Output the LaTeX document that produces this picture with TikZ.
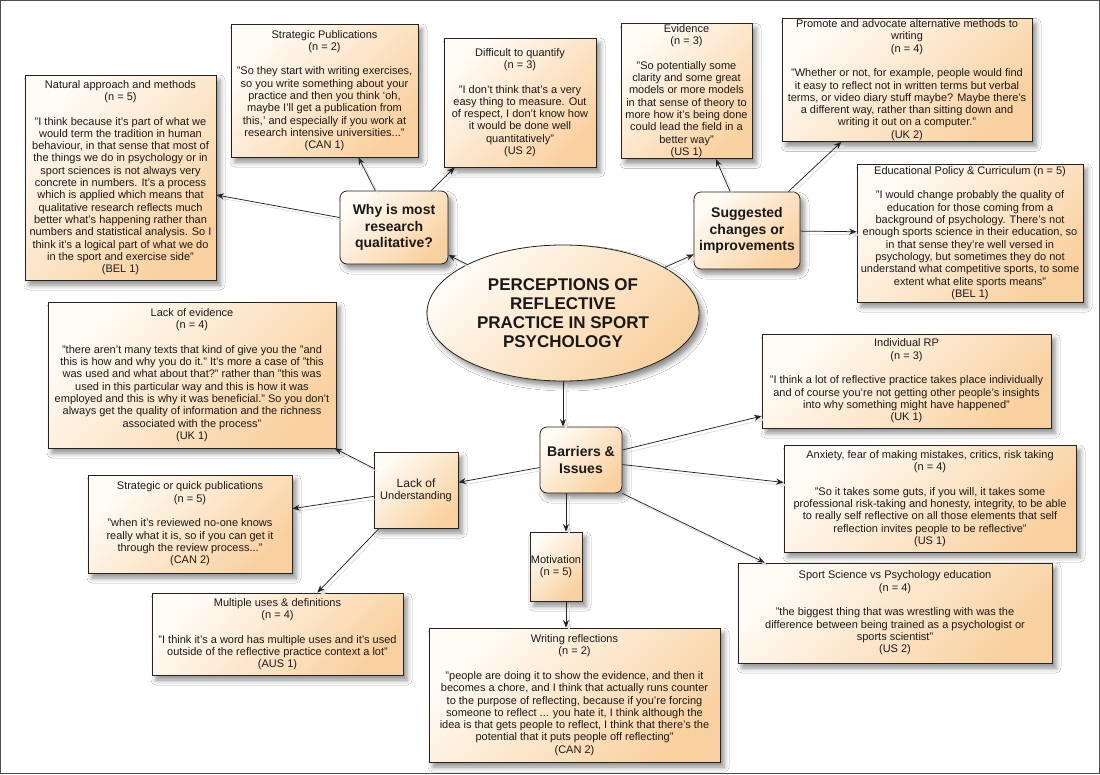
\documentclass[tikz,border=0pt]{standalone}
\usepackage{fontspec}
\setmainfont{Liberation Sans}
\usetikzlibrary{arrows.meta,shapes.geometric,shadows.blur,calc}

\definecolor{boxlight}{RGB}{255,251,245}
\definecolor{boxdark}{RGB}{249,209,160}
\definecolor{ink}{RGB}{35,35,35}

\newcommand\quotefont{\fontsize{11}{12.3}\selectfont}
\newcommand\hubfont{\fontsize{14}{16.6}\selectfont\bfseries}
\newcommand\centrefont{\fontsize{17}{19.2}\selectfont\bfseries}

% a box given by its corners (x1,y1) and (x2,y2), y pointing down
\newcommand\boxat[7]{%
  \pgfmathsetmacro\boxwd{#5-#3}%
  \pgfmathsetmacro\boxht{#6-#4}%
  \node[#1, minimum width=\boxwd pt, minimum height=\boxht pt]
    (#2) at ({(#3+#5)/2},{(#4+#6)/2}) {#7};}

% connector with its faint offset shadow
\newcommand\link[2]{%
  \draw[linkshade] #1 -- #2;
  \draw[linkmain] #1 -- #2;}

\tikzset{
  card/.style={draw=ink, line width=0.8pt,
    top color=boxlight, bottom color=boxdark, shading angle=45,
    blur shadow={shadow xshift=4pt, shadow yshift=-5pt,
      shadow blur radius=5pt, shadow opacity=45},
    font=\quotefont, text=black!90, align=center, inner sep=1pt},
  hub/.style={card, rounded corners=7pt, font=\hubfont},
  centre/.style={card, ellipse, font=\centrefont},
  linkmain/.style={draw=ink, line width=0.75pt,
    -{Stealth[length=7.5pt,width=6pt]}},
  linkshade/.style={draw=black!13, line width=0.75pt,
    -{Stealth[length=7.5pt,width=6pt]},
    transform canvas={shift={(3pt,-3pt)}}},
}

\begin{document}
\begin{tikzpicture}[x=1pt,y=-1pt]
\useasboundingbox (0,0) rectangle (1100,774);
\fill[white] (0,0) rectangle (1100,774);
\draw[black!70, line width=1pt] (0.5,0.5) rectangle (1099.5,773.5);

% centre
\node[centre, minimum width=272pt, minimum height=136pt] (ell) at (563,313)
  {PERCEPTIONS OF\\REFLECTIVE\\PRACTICE IN SPORT\\PSYCHOLOGY};

% hubs
\boxat{hub}{why}{340}{191}{448}{264}{Why is most\\research\\qualitative?}
\boxat{hub}{sugg}{694}{192}{800}{269}{Suggested\\changes or\\improvements}
\boxat{hub}{barr}{540}{427}{622}{493}{Barriers \&\\Issues}

% why is most research qualitative?
\boxat{card}{nat}{25}{75}{216}{280}{Natural approach and methods\\(n = 5)\\[12.3pt]
"I think because it's part of what we\\would term the tradition in human\\
behaviour, in that sense that most of\\the things we do in psychology or in\\
sport sciences is not always very\\concrete in numbers. It's a process\\
which is applied which means that\\qualitative research reflects much\\
better what's happening rather than\\numbers and statistical analysis. So I\\
think it's a logical part of what we do\\in the sport and exercise side"\\(BEL 1)}

\boxat{card}{spub}{231}{24}{418}{157}{Strategic Publications\\(n = 2)\\[12.3pt]
"So they start with writing exercises,\\so you write something about your\\
practice and then you think `oh,\\maybe I'll get a publication from\\
this,' and especially if you work at\\research intensive universities..."\\(CAN 1)}

\boxat{card}{diff}{444}{38}{596}{167}{Difficult to quantify\\(n = 3)\\[12.3pt]
"I don't think that's a very\\easy thing to measure. Out\\
of respect, I don't know how\\it would be done well\\quantitatively"\\(US 2)}

% suggested changes or improvements
\boxat{card}{evid}{621}{25}{752}{157}{Evidence\\(n = 3)\\[12.3pt]
"So potentially some\\clarity and some great\\models or more models\\
in that sense of theory to\\more how it's being done\\could lead the field in a\\
better way"\\(US 1)}

\boxat{card}{prom}{782}{20}{1032}{140}{Promote and advocate alternative methods to\\
writing\\(n = 4)\\[12.3pt]
"Whether or not, for example, people would find\\
it easy to reflect not in written terms but verbal\\
terms, or video diary stuff maybe? Maybe there's\\
a different way, rather than sitting down and\\
writing it out on a computer."\\(UK 2)}

\boxat{card}{educ}{857}{164}{1083}{302}{Educational Policy \& Curriculum (n = 5)\\[12.3pt]
"I would change probably the quality of\\education for those coming from a\\
background of psychology. There's not\\enough sports science in their education, so\\
in that sense they're well versed in\\psychology, but sometimes they do not\\
understand what competitive sports, to some\\extent what elite sports means"\\(BEL 1)}

% barriers and issues
\boxat{card}{lou}{374}{452}{458}{528}{\fontsize{12}{14}\selectfont Lack of\\Understanding}

\boxat{card}{lev}{48}{302}{336}{448}{Lack of evidence\\(n = 4)\\[12.3pt]
"there aren't many texts that kind of give you the "and\\
this is how and why you do it." It's more a case of "this\\
was used and what about that?" rather than "this was\\
used in this particular way and this is how it was\\
employed and this is why it was beneficial." So you don't\\
always get the quality of information and the richness\\
associated with the process"\\(UK 1)}

\boxat{card}{squick}{88}{475}{292}{573}{Strategic or quick publications\\(n = 5)\\[12.3pt]
"when it's reviewed no-one knows\\really what it is, so if you can get it\\
through the review process..."\\(CAN 2)}

\boxat{card}{multi}{152}{593}{403}{675}{Multiple uses \& definitions\\(n = 4)\\[12.3pt]
"I think it's a word has multiple uses and it's used\\
outside of the reflective practice context a lot"\\(AUS 1)}

\boxat{card}{motiv}{530}{532}{582}{601}{Motivation\\(n = 5)}

\boxat{card}{write}{429}{628}{720}{762}{Writing reflections\\(n = 2)\\[12.3pt]
"people are doing it to show the evidence, and then it\\
becomes a chore, and I think that actually runs counter\\
to the purpose of reflecting, because if you're forcing\\
someone to reflect ... you hate it, I think although the\\
idea is that gets people to reflect, I think that there's the\\
potential that it puts people off reflecting"\\(CAN 2)}

\boxat{card}{indiv}{762}{334}{1051}{428}{Individual RP\\(n = 3)\\[12.3pt]
"I think a lot of reflective practice takes place individually\\
and of course you're not getting other people's insights\\
into why something might have happened"\\(UK 1)}

\boxat{card}{anx}{784}{445}{1076}{552}{Anxiety, fear of making mistakes, critics, risk taking\\
(n = 4)\\[12.3pt]
"So it takes some guts, if you will, it takes some\\
professional risk-taking and honesty, integrity, to be able\\
to really self reflective on all those elements that self\\
reflection invites people to be reflective"\\(US 1)}

\boxat{card}{sport}{738}{563}{1052}{663}{Sport Science vs Psychology education\\(n = 4)\\[12.3pt]
"the biggest thing that was wrestling with was the\\
difference between being trained as a psychologist or\\
sports scientist"\\(US 2)}

% connectors from the centre
\link{(ell)}{(why)}
\link{(ell)}{(sugg)}
\link{(ell.south)}{(ell.south |- barr.north)}

% connectors from the hubs
\link{(why)}{(nat)}
\link{(why)}{(spub)}
\link{(why)}{(diff)}
\link{(sugg)}{(evid)}
\link{(sugg)}{(prom)}
\link{(sugg)}{(educ)}
\link{(barr)}{(lou)}
\link{(barr)}{(indiv)}
\link{(barr)}{(anx)}
\link{(barr.south east)}{([xshift=27pt]sport.north west)}
\link{([xshift=10pt]motiv.north |- barr.south)}{([xshift=10pt]motiv.north)}
\link{([xshift=10pt]motiv.south)}{([xshift=10pt]motiv.south |- write.north)}
\link{(lou)}{(lev)}
\link{(lou)}{(squick)}
\link{(lou)}{(multi)}
\end{tikzpicture}
\end{document}
